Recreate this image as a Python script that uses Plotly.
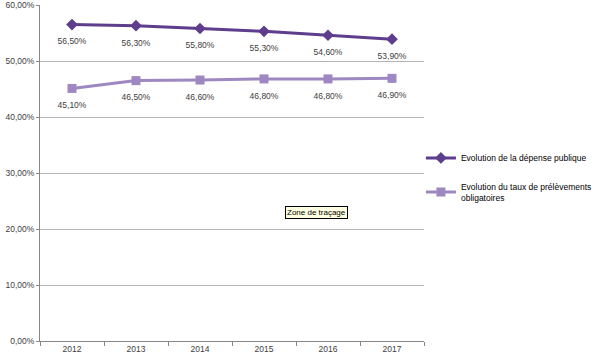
import plotly.graph_objects as go

years = ["2012", "2013", "2014", "2015", "2016", "2017"]
depense = [0.565, 0.563, 0.558, 0.553, 0.546, 0.539]
prelevements = [0.451, 0.465, 0.466, 0.468, 0.468, 0.469]
name1 = "Evolution de la dépense publique"
name2 = "Evolution du taux de prélèvements<br>obligatoires"

c1 = "#5e3d8d"
c2 = "#9d88c1"
txt = "#404040"
font = "Liberation Sans"

fig = go.Figure()
for vals, name, col, sym, grp in [
    (depense, name1, c1, "diamond", "a"),
    (prelevements, name2, c2, "square", "b"),
]:
    fig.add_trace(go.Scatter(
        x=years, y=vals, name=name, mode="lines+markers",
        line=dict(color=col, width=3),
        marker=dict(symbol=sym, size=9, color=col),
        legendgroup=grp,
    ))
    # label trace: invisible larger markers to push labels further below points
    fig.add_trace(go.Scatter(
        x=years, y=vals, mode="markers+text", showlegend=False,
        marker=dict(size=20, color="rgba(0,0,0,0)"),
        texttemplate="%{y:.2%}", textposition="bottom center",
        textfont=dict(family=font, size=8.5, color=txt),
        hoverinfo="skip", legendgroup=grp,
    ))

fig.add_annotation(
    text="Zone de traçage", xref="paper", yref="paper",
    x=0.721, y=0.381, xanchor="center", yanchor="middle", showarrow=False,
    font=dict(family=font, size=8, color="#000000"),
    bgcolor="#ffffe1", bordercolor="#000000", borderwidth=1, borderpad=1,
)

fig.update_layout(
    width=600, height=358,
    margin=dict(l=40, r=176, t=5, b=17, autoexpand=False),
    paper_bgcolor="white", plot_bgcolor="white",
    separators=", ",
    font=dict(family=font, size=8.5, color=txt),
    showlegend=True,
    legend=dict(
        x=0.992, y=0.588, xanchor="left", yanchor="top",
        font=dict(family=font, size=8.5, color="#000000"),
        itemwidth=30, tracegroupgap=12, traceorder="grouped",
        bgcolor="rgba(0,0,0,0)",
    ),
    xaxis=dict(
        type="category", range=[-0.5, 5.5],
        showgrid=False, showline=True, linecolor="#868686", linewidth=1,
        ticks="outside", tickson="boundaries", ticklen=4, tickcolor="#868686",
        tickfont=dict(family=font, size=8.5, color=txt),
        fixedrange=True, automargin=False,
    ),
    yaxis=dict(
        range=[0, 0.6], dtick=0.1, tickformat=".2%",
        showgrid=True, gridcolor="#b4b4b4", gridwidth=1,
        showline=True, linecolor="#868686", linewidth=1,
        ticks="outside", ticklen=3, tickcolor="#868686",
        tickfont=dict(family=font, size=8.5, color=txt),
        zeroline=False, fixedrange=True, automargin=False,
        ticklabeloverflow="allow",
    ),
)

fig.write_html(
    "out.html",
    config={"displayModeBar": False},
    post_script="document.body.style.margin='0';",
)
